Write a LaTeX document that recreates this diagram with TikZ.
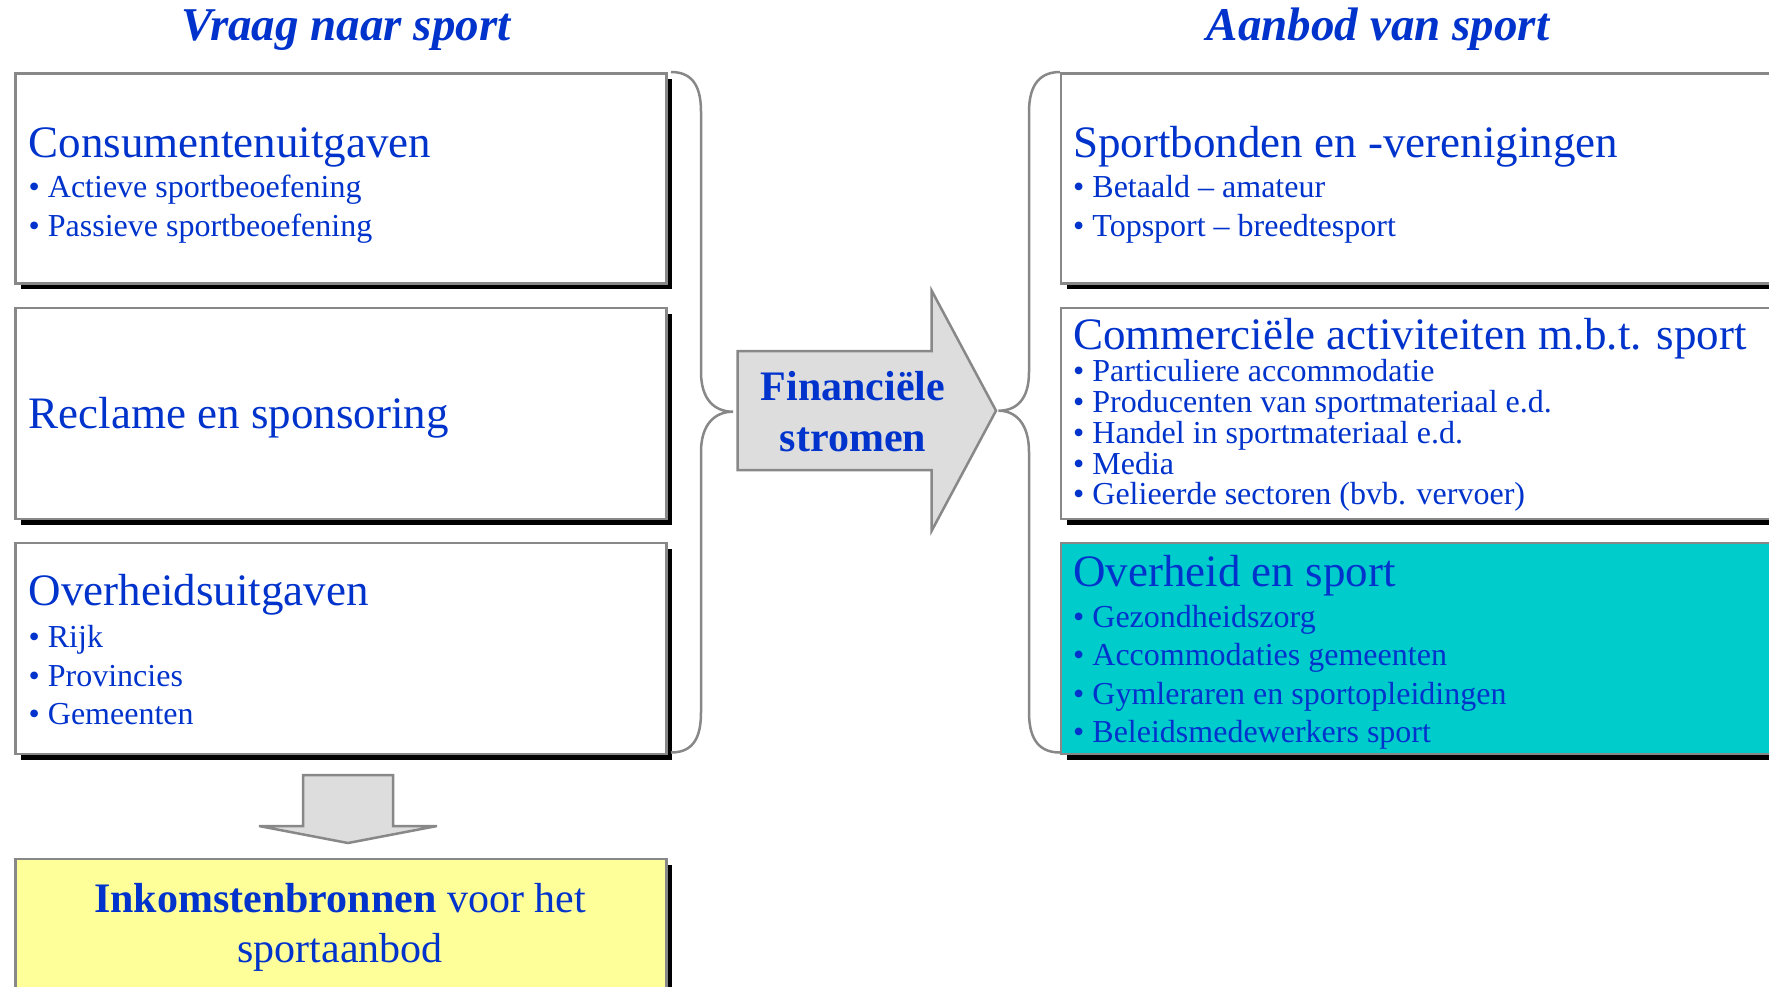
\documentclass[tikz,border=0pt]{standalone}
\usepackage{fontspec}
\setmainfont{Liberation Serif}
\usetikzlibrary{shadows}
\definecolor{txtblue}{RGB}{0,51,204}
\definecolor{bordergray}{RGB}{136,136,136}
\definecolor{cyanfill}{RGB}{0,204,204}
\definecolor{yellowfill}{RGB}{255,255,153}
\definecolor{arrowfill}{RGB}{221,221,221}
\begin{document}
\begin{tikzpicture}[x=1pt,y=-1pt,
  panel/.style={draw=bordergray,line width=2.5pt,fill=white,anchor=north west,
    inner sep=0pt,
    drop shadow={shadow xshift=6pt,shadow yshift=-6pt,opacity=1,fill=black}},
  headtxt/.style={anchor=base west,inner sep=0pt,text=txtblue,font=\fontsize{45}{54}\selectfont},
  itemtxt/.style={anchor=base west,inner sep=0pt,text=txtblue,font=\fontsize{32}{38}\selectfont},
  titletxt/.style={anchor=base,inner sep=0pt,text=txtblue,font=\fontsize{47}{56}\selectfont\bfseries\itshape},
  bigtxt/.style={anchor=base,inner sep=0pt,text=txtblue,font=\fontsize{42}{50}\selectfont},
  bracestyle/.style={draw=bordergray,line width=2.5pt},
  arrowshape/.style={draw=bordergray,line width=2.5pt,fill=arrowfill,line join=miter}
]
\useasboundingbox (0,0) rectangle (1769,986);

% titles
\node[titletxt] (t1) at (346,40) {Vraag naar sport};
\node[titletxt] (t2) at (1378,40) {Aanbod van sport};

% left boxes
\node[panel,minimum width=651pt,minimum height=210pt] (lb1) at (14,72) {};
\node[panel,minimum width=651pt,minimum height=211pt] (lb2) at (14,306.5) {};
\node[panel,minimum width=651pt,minimum height=211pt] (lb3) at (14,541.5) {};
\node[panel,minimum width=651pt,minimum height=160pt,fill=yellowfill] (lb4) at (14,857.5) {};

% right boxes
\node[panel,minimum width=760pt,minimum height=210pt] (rb1) at (1059.5,72) {};
\node[panel,minimum width=760pt,minimum height=211pt] (rb2) at (1059.5,306.5) {};
\node[panel,minimum width=760pt,minimum height=211pt,fill=cyanfill] (rb3) at (1059.5,541.5) {};

% left texts
\node[headtxt] (l1h) at (28.5,157) {Consumentenuitgaven};
\node[itemtxt] (l1a) at (28.5,197) {• Actieve sportbeoefening};
\node[itemtxt] (l1b) at (28.5,236) {• Passieve sportbeoefening};
\node[headtxt] (l2h) at (28.5,428) {Reclame en sponsoring};
\node[headtxt] (l3h) at (28.5,605) {Overheidsuitgaven};
\node[itemtxt] (l3a) at (28.5,647.5) {• Rijk};
\node[itemtxt] (l3b) at (28.5,686) {• Provincies};
\node[itemtxt] (l3c) at (28.5,724) {• Gemeenten};

% right texts
\node[headtxt] (r1h) at (1073,157) {Sportbonden en -verenigingen};
\node[itemtxt] (r1a) at (1073,197) {• Betaald – amateur};
\node[itemtxt] (r1b) at (1073,236) {• Topsport – breedtesport};
\node[headtxt] (r2h) at (1073,349) {Commerciële activiteiten m.b.t. sport};
\node[itemtxt] (r2a) at (1073,381) {• Particuliere accommodatie};
\node[itemtxt] (r2b) at (1073,412) {• Producenten van sportmateriaal e.d.};
\node[itemtxt] (r2c) at (1073,443) {• Handel in sportmateriaal e.d.};
\node[itemtxt] (r2d) at (1073,474) {• Media};
\node[itemtxt] (r2e) at (1073,504.5) {• Gelieerde sectoren (bvb. vervoer)};
\node[headtxt] (r3h) at (1073,586) {Overheid en sport};
\node[itemtxt] (r3a) at (1073,627.5) {• Gezondheidszorg};
\node[itemtxt] (r3b) at (1073,665.5) {• Accommodaties gemeenten};
\node[itemtxt] (r3c) at (1073,704) {• Gymleraren en sportopleidingen};
\node[itemtxt] (r3d) at (1073,742) {• Beleidsmedewerkers sport};

% braces
\draw[bracestyle] (671,72) .. controls (695,72) and (701,90) .. (701,112)
  -- (701,372) .. controls (701,400) and (715,411.7) .. (733,411.7)
  .. controls (715,411.7) and (701,424) .. (701,452)
  -- (701,712) .. controls (701,735) and (695,752.5) .. (671,752.5);
\draw[bracestyle] (1060,72) .. controls (1036,72) and (1029,90) .. (1029,112)
  -- (1029,372) .. controls (1029,400) and (1016,410.7) .. (998.5,410.7)
  .. controls (1016,410.7) and (1029,424) .. (1029,452)
  -- (1029,712) .. controls (1029,735) and (1036,752.5) .. (1060,752.5);

% big arrow
\draw[arrowshape] (737.7,351) -- (931.7,351) -- (931.7,290.7) -- (996,410.7)
  -- (931.7,530.7) -- (931.7,470) -- (737.7,470) -- cycle;
\node[bigtxt,font=\fontsize{42}{50}\selectfont\bfseries] (f1) at (853,400) {Financiële};
\node[bigtxt,font=\fontsize{42}{50}\selectfont\bfseries] (f2) at (853,451.7) {stromen};

% down arrow
\draw[arrowshape] (303,775) -- (393,775) -- (393,826) -- (437,826) -- (348,843)
  -- (259,826) -- (303,826) -- cycle;

% yellow box text
\node[bigtxt] (y1) at (340,912.7) {\textbf{Inkomstenbronnen} voor het};
\node[bigtxt] (y2) at (340,962.7) {sportaanbod};
\end{tikzpicture}
\end{document}
